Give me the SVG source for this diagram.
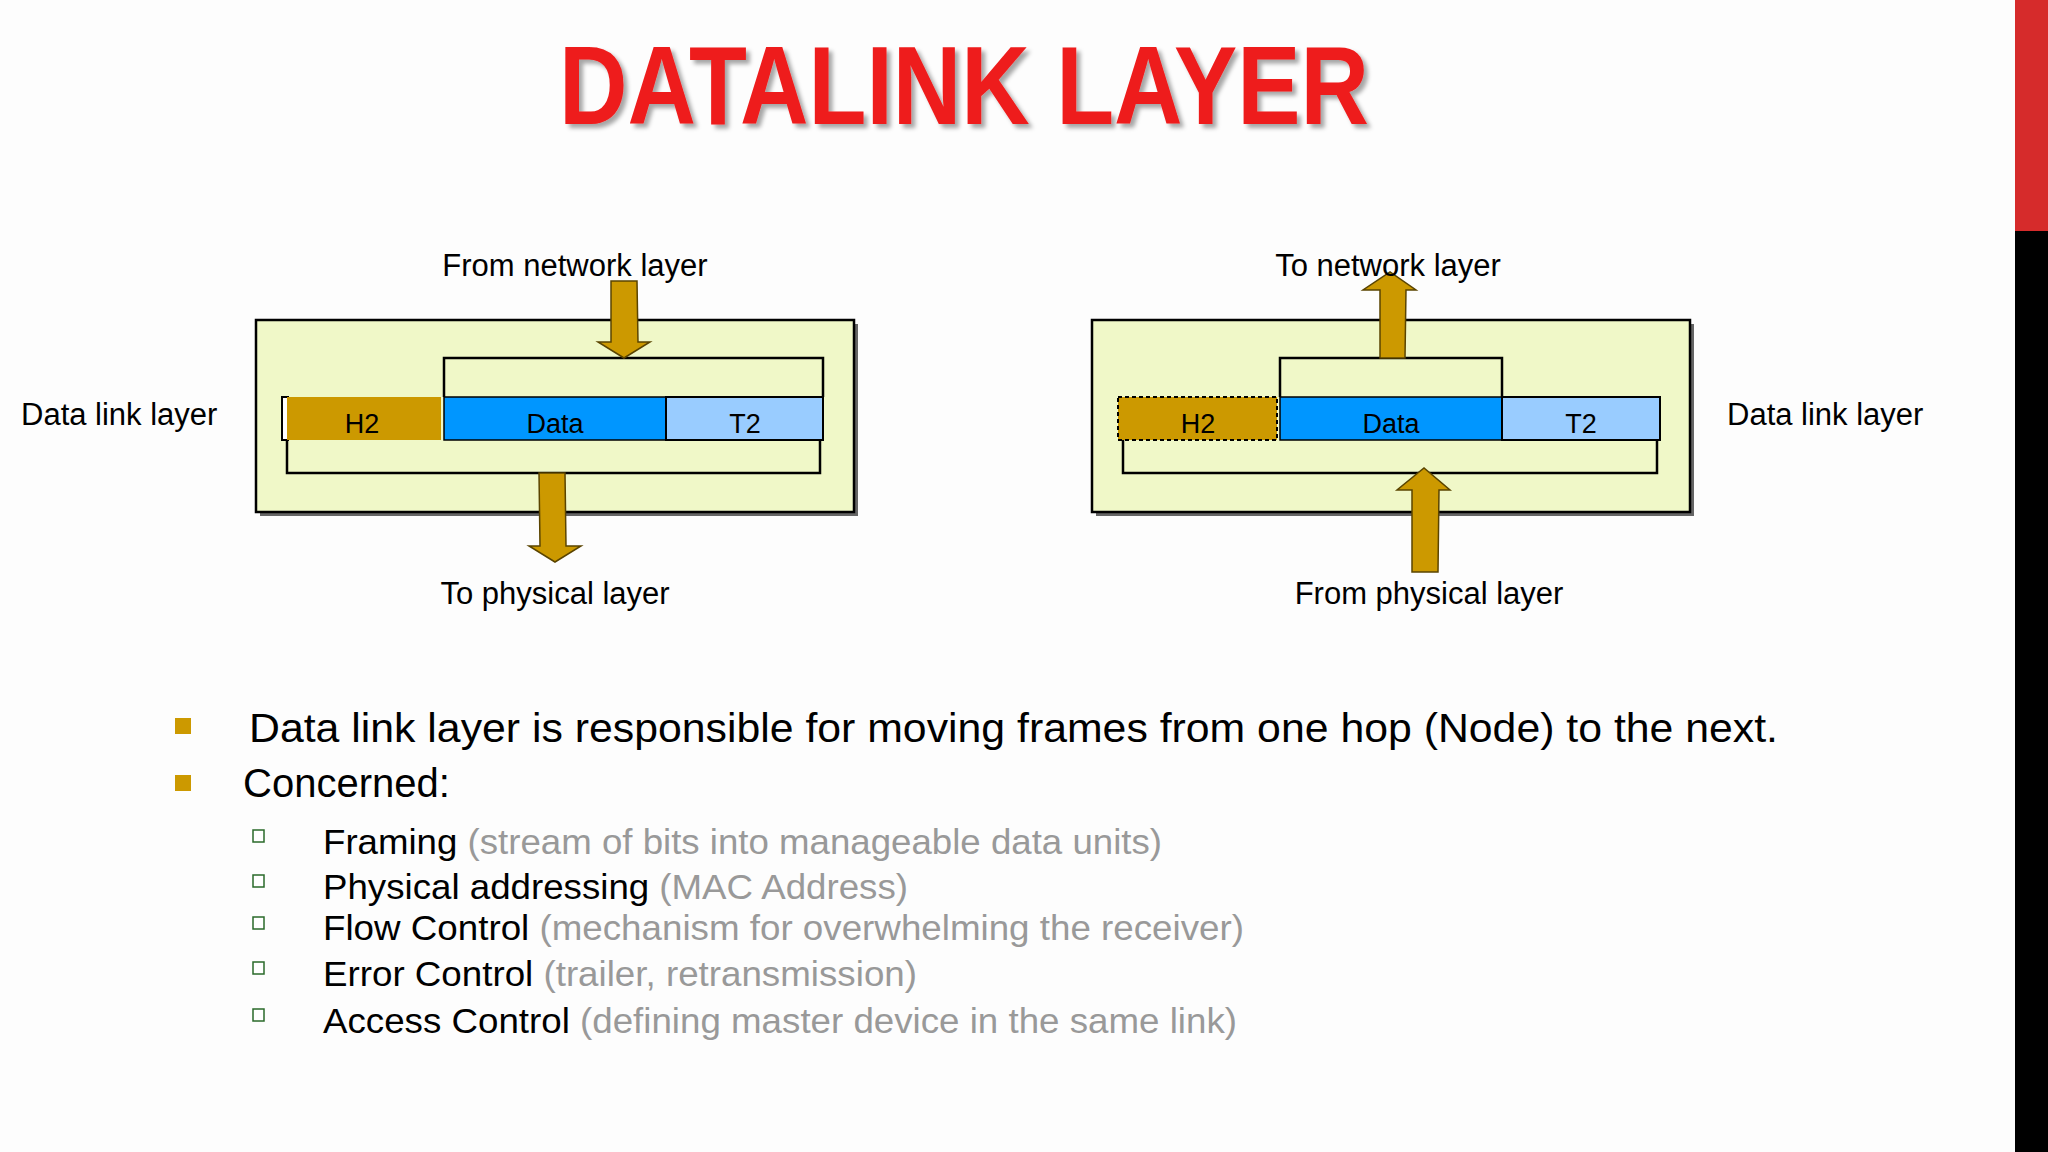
<svg xmlns="http://www.w3.org/2000/svg" width="2048" height="1152" viewBox="0 0 2048 1152">
<defs>
<style>
.t{font-family:"Liberation Sans",Arial,sans-serif;fill:#000}
.lbl{font-size:31px}
.cell{font-size:27px;text-anchor:middle}
.box{fill:#f0f8c8;stroke:#000;stroke-width:2.5}
.br{fill:none;stroke:#000;stroke-width:2.5}
.arr{fill:#cc9900;stroke:#5a4400;stroke-width:1.5}
.sub{font-size:35px}
.g{fill:#999}
.hb{fill:#fff;stroke:#2a6a2a;stroke-width:1.5}
</style>
<filter id="sh" x="-5%" y="-5%" width="110%" height="120%"><feDropShadow dx="4" dy="4" stdDeviation="2" flood-color="#000" flood-opacity="0.35"/></filter>
</defs>
<rect width="2048" height="1152" fill="#fdfdfd"/>
<rect x="2015" y="0" width="33" height="231" fill="#d62b2b"/>
<rect x="2015" y="231" width="33" height="921" fill="#000"/>
<text id="title" x="964" y="124" class="t" text-anchor="middle" font-size="112" font-weight="bold" fill="#ee1c1c" style="fill:#ee1c1c" textLength="810" lengthAdjust="spacingAndGlyphs" filter="url(#sh)">DATALINK LAYER</text>

<g id="left-box">
<rect x="260" y="324" width="598" height="192" fill="#666"/>
<rect x="256" y="320" width="598" height="192" class="box"/>
<path d="M444,397 V358 H823 V397" class="br"/>
<rect x="282" y="397" width="6" height="43" fill="#fff" stroke="#000" stroke-width="2"/>
<rect x="287" y="397" width="154" height="43" fill="#cc9900"/>
<rect x="444" y="397" width="222" height="43" fill="#0096ff" stroke="#000" stroke-width="1.5"/>
<rect x="666" y="397" width="157" height="43" fill="#99ccff" stroke="#000" stroke-width="2"/>
<text x="362" y="433" class="t cell">H2</text>
<text x="555" y="433" class="t cell">Data</text>
<text x="745" y="433" class="t cell">T2</text>
<path d="M287,440 V473 H820 V440" class="br"/>
</g>
<g id="right-box">
<rect x="1096" y="324" width="598" height="192" fill="#666"/>
<rect x="1092" y="320" width="598" height="192" class="box"/>
<path d="M1280,397 V358 H1502 V397" class="br"/>
<rect x="1118" y="397" width="159" height="43" fill="#cc9900" stroke="#000" stroke-width="2" stroke-dasharray="4,3"/>
<rect x="1280" y="397" width="222" height="43" fill="#0096ff" stroke="#000" stroke-width="1.5"/>
<rect x="1502" y="397" width="158" height="43" fill="#99ccff" stroke="#000" stroke-width="2"/>
<text x="1198" y="433" class="t cell">H2</text>
<text x="1391" y="433" class="t cell">Data</text>
<text x="1581" y="433" class="t cell">T2</text>
<path d="M1123,440 V473 H1657 V440" class="br"/>
</g>
<g id="connectors">
<path class="arr" d="M611,281 H637 L638,342 H650 L624,358 L598,342 H611 Z"/>
<path class="arr" d="M539,473 H565 L566,546 H581 L555,562 L529,546 H540 Z"/>
<path class="arr" d="M1380,358 H1405 L1406,290 H1416 L1390,272 L1363,290 H1380 Z"/>
<path class="arr" d="M1412,572 H1438 L1439,490 H1450 L1424,468 L1397,490 H1412 Z"/>
</g>
<g id="labels">
<text x="575" y="276" class="t lbl" text-anchor="middle">From network layer</text>
<text x="555" y="604" class="t lbl" text-anchor="middle">To physical layer</text>
<text x="21" y="425" class="t lbl">Data link layer</text>
<text x="1388" y="276" class="t lbl" text-anchor="middle">To network layer</text>
<text x="1429" y="604" class="t lbl" text-anchor="middle">From physical layer</text>
<text x="1727" y="425" class="t lbl">Data link layer</text>
</g>
<g id="bullets">
<rect x="175" y="718" width="16" height="16" fill="#cc9900"/>
<text x="249" y="742" class="t" font-size="40" textLength="1529" lengthAdjust="spacingAndGlyphs">Data link layer is responsible for moving frames from one hop (Node) to the next.</text>
<rect x="175" y="775" width="16" height="16" fill="#cc9900"/>
<text x="243" y="797" class="t" font-size="40">Concerned:</text>
<rect x="253" y="830" width="11" height="12" class="hb"/>
<text x="323" y="854" class="t sub" textLength="839" lengthAdjust="spacingAndGlyphs">Framing <tspan class="g">(stream of bits into manageable data units)</tspan></text>
<rect x="253" y="875" width="11" height="12" class="hb"/>
<text x="323" y="899" class="t sub" textLength="585" lengthAdjust="spacingAndGlyphs">Physical addressing <tspan class="g">(MAC Address)</tspan></text>
<rect x="253" y="917" width="11" height="12" class="hb"/>
<text x="323" y="940" class="t sub" textLength="921" lengthAdjust="spacingAndGlyphs">Flow Control <tspan class="g">(mechanism for overwhelming the receiver)</tspan></text>
<rect x="253" y="962" width="11" height="12" class="hb"/>
<text x="323" y="986" class="t sub" textLength="594" lengthAdjust="spacingAndGlyphs">Error Control <tspan class="g">(trailer, retransmission)</tspan></text>
<rect x="253" y="1009" width="11" height="12" class="hb"/>
<text x="323" y="1033" class="t sub" textLength="914" lengthAdjust="spacingAndGlyphs">Access Control <tspan class="g">(defining master device in the same link)</tspan></text>
</g>
</svg>
